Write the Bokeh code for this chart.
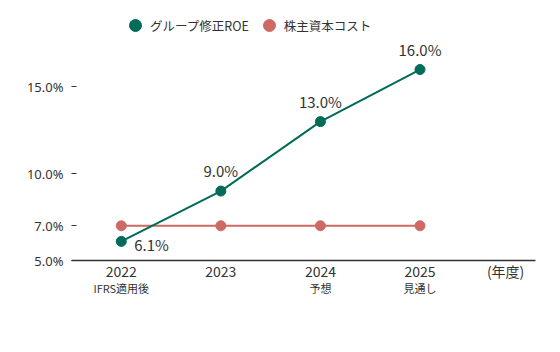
from bokeh.plotting import figure
from bokeh.models import (FixedTicker, Legend, LegendItem, Label, Range1d,
                          CustomJSTickFormatter, ColumnDataSource, LinearAxis)
from bokeh.embed import file_html
from bokeh.resources import INLINE

years = [2022, 2023, 2024, 2025]
year_labels = ["2022", "2023", "2024", "2025"]
sub_labels = ["IFRS適用後", "", "予想", "見通し"]
unit_label = "(年度)"
roe = [6.1, 9.0, 13.0, 16.0]
cost = [7.0, 7.0, 7.0, 7.0]
roe_labels = ["6.1%", "9.0%", "13.0%", "16.0%"]
y_ticks = [5, 7, 10, 15]

GREEN = "#006b57"
RED = "#cd6a63"
TXT = "#333333"
FONT = "Noto Sans CJK JP"
UNIT_POS = 2025.86

p = figure(width=560, height=352, output_backend="svg", toolbar_location=None,
           x_range=Range1d(2021.5, 2026.16), y_range=Range1d(5, 19.4),
           min_border_left=71, min_border_right=25, min_border_top=10,
           min_border_bottom=92)
p.outline_line_color = None
p.grid.visible = False
p.background_fill_color = "white"
p.border_fill_color = "white"

# axes
p.yaxis.ticker = FixedTicker(ticks=y_ticks)
p.yaxis.formatter = CustomJSTickFormatter(code="return tick.toFixed(1) + '%';")
p.yaxis.axis_line_color = None
p.yaxis.major_tick_in = 5
p.yaxis.major_tick_out = 0
p.yaxis.minor_tick_line_color = None
p.yaxis.major_tick_line_color = TXT
p.yaxis.major_label_standoff = 8
p.yaxis.major_label_text_font = "Noto Sans"
p.yaxis.major_label_text_font_size = "13px"
p.yaxis.major_label_text_color = TXT

overrides = {y: l for y, l in zip(years, year_labels)}
overrides[UNIT_POS] = unit_label
p.xaxis.ticker = FixedTicker(ticks=years + [UNIT_POS])
p.xaxis.major_label_overrides = overrides
p.xaxis.axis_line_color = TXT
p.xaxis.axis_line_width = 1.5
p.xaxis.major_tick_line_color = None
p.xaxis.major_tick_in = 0
p.xaxis.major_tick_out = 0
p.xaxis.minor_tick_line_color = None
p.xaxis.minor_tick_in = 0
p.xaxis.minor_tick_out = 0
p.xaxis.major_label_standoff = 0
p.xaxis.major_label_text_font = FONT
p.xaxis.major_label_text_font_size = "14px"
p.xaxis.major_label_text_color = TXT

sub_ticks = [y for y, s in zip(years, sub_labels) if s]
sub_axis = LinearAxis(ticker=FixedTicker(ticks=sub_ticks),
                      major_label_overrides={y: s for y, s in zip(years, sub_labels) if s},
                      axis_line_color=None, major_tick_line_color=None,
                      major_tick_in=0, major_tick_out=0,
                      minor_tick_line_color=None, minor_tick_in=0, minor_tick_out=0,
                      major_label_standoff=-4,
                      major_label_text_font=FONT, major_label_text_font_size="11px",
                      major_label_text_color=TXT)
p.add_layout(sub_axis, "below")

src_roe = ColumnDataSource(dict(x=years, y=roe, lab=roe_labels))
src_cost = ColumnDataSource(dict(x=years, y=cost))

p.line("x", "y", source=src_cost, line_color=RED, line_width=2)
r_cost = p.scatter("x", "y", source=src_cost, size=10, color=RED)
p.line("x", "y", source=src_roe, line_color=GREEN, line_width=2)
r_roe = p.scatter("x", "y", source=src_roe, size=10, color=GREEN)

# data labels
for i, (x, y, lab) in enumerate(zip(years, roe, roe_labels)):
    if i == 0:
        p.add_layout(Label(x=x, y=y, text=lab, x_offset=13, y_offset=-3,
                           text_align="left", text_baseline="middle",
                           text_font=FONT, text_font_size="15px", text_color=TXT))
    else:
        p.add_layout(Label(x=x, y=y, text=lab, y_offset=10,
                           text_align="center", text_baseline="bottom",
                           text_font=FONT, text_font_size="15px", text_color=TXT))

legend = Legend(items=[LegendItem(label="グループ修正ROE", renderers=[r_roe]),
                       LegendItem(label="株主資本コスト", renderers=[r_cost])],
                orientation="horizontal", location=(49, 220),
                label_text_font=FONT, label_text_font_size="12.5px",
                label_text_color=TXT, glyph_width=30, glyph_height=30,
                label_standoff=-7, spacing=5, padding=0, margin=0,
                border_line_color=None, background_fill_alpha=0)
p.add_layout(legend)

open("out.html", "w").write(file_html(p, INLINE))
